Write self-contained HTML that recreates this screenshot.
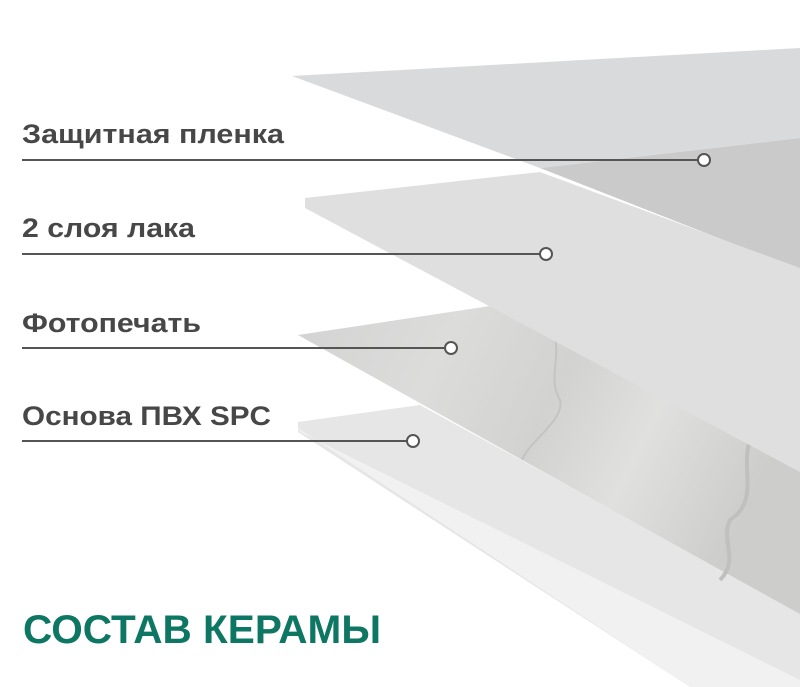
<!DOCTYPE html>
<html><head><meta charset="utf-8"><style>
html,body{margin:0;padding:0;background:#fff;}
svg{display:block;}
</style></head><body>
<svg width="800" height="687" viewBox="0 0 800 687" xmlns="http://www.w3.org/2000/svg">
<defs>
<linearGradient id="mar" x1="0" y1="0" x2="1" y2="0.3">
<stop offset="0" stop-color="#d2d3d2"/>
<stop offset="0.3" stop-color="#dcdcdb"/>
<stop offset="0.55" stop-color="#d2d2d0"/>
<stop offset="0.75" stop-color="#e0e0df"/>
<stop offset="1" stop-color="#cdcdcc"/>
</linearGradient>
</defs>
<polygon points="298,422 420,405 800,612 800,687 690,687 298,432" fill="#e6e6e6"/>
<polygon points="298,428 690,687 800,687 800,680 300,432" fill="#f1f1f1"/>
<polygon points="298,335 490,306 800,470 800,614 513,455" fill="url(#mar)"/>
<path d="M555,338 C560,360 548,380 560,400 C565,420 530,440 522,460" stroke="#c4c4c2" stroke-width="2" fill="none"/>
<path d="M750,440 C740,470 760,500 730,520 C720,540 740,560 720,580" stroke="#c0c0be" stroke-width="4" fill="none"/>
<polygon points="540,168 800,138 800,270" fill="#cacaca"/>
<polygon points="305,198 540,172 800,268 800,472 305,208" fill="#dfdfdf"/>
<polygon points="292,76 800,48 800,138 540,168" fill="#d9dadb"/>
<g stroke="#555" stroke-width="2" fill="#fff">
<line x1="22" y1="160" x2="698" y2="160"/>
<circle cx="704" cy="160" r="6"/>
<line x1="22" y1="254" x2="540" y2="254"/>
<circle cx="546" cy="254" r="6"/>
<line x1="22" y1="348" x2="445" y2="348"/>
<circle cx="451" cy="348" r="6"/>
<line x1="22" y1="441" x2="407" y2="441"/>
<circle cx="413" cy="441" r="6"/>
</g>
<g font-family="Liberation Sans, sans-serif" font-size="27" fill="#474747" font-weight="bold">
<text x="22" y="143" textLength="262" lengthAdjust="spacingAndGlyphs">Защитная пленка</text>
<text x="22" y="237" textLength="173" lengthAdjust="spacingAndGlyphs">2 слоя лака</text>
<text x="22" y="332" textLength="179" lengthAdjust="spacingAndGlyphs">Фотопечать</text>
<text x="22" y="425" textLength="249" lengthAdjust="spacingAndGlyphs">Основа ПВХ SPC</text>
</g>
<text x="23" y="643" font-family="Liberation Sans, sans-serif" font-size="40" font-weight="bold" fill="#0e7763" textLength="358" lengthAdjust="spacingAndGlyphs">СОСТАВ КЕРАМЫ</text>
</svg>
</body></html>
